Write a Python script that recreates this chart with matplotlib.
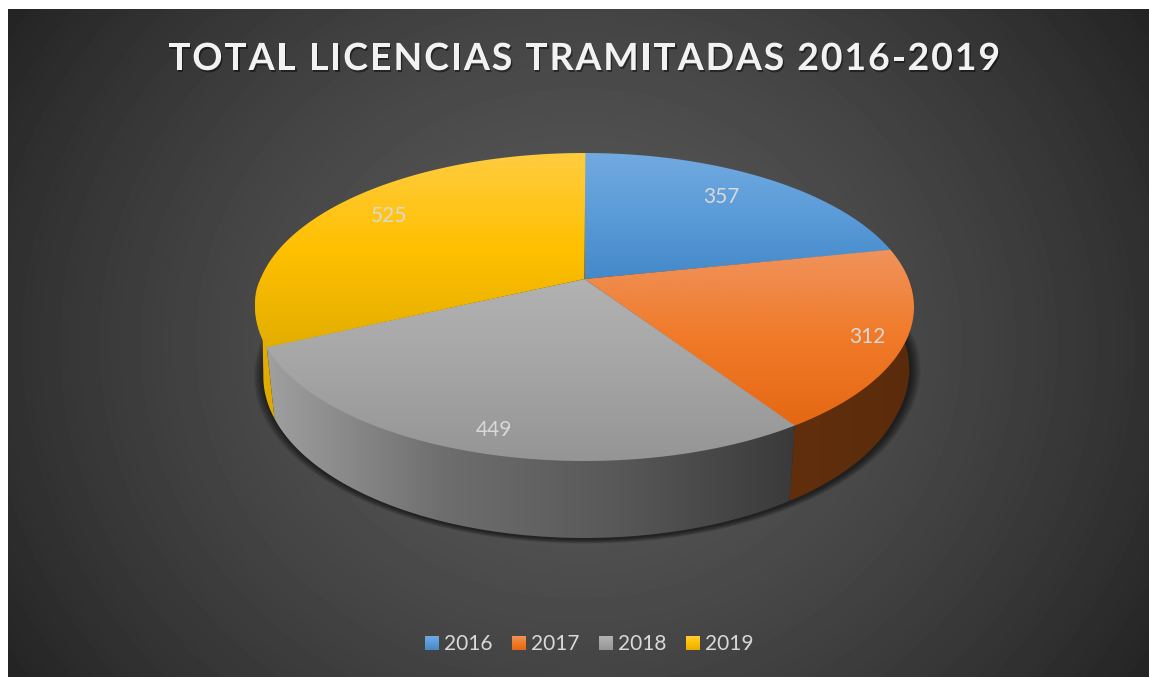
import numpy as np
import matplotlib
matplotlib.use('Agg')
import matplotlib.pyplot as plt
from matplotlib.colors import LinearSegmentedColormap
from matplotlib.patches import Polygon
from matplotlib.text import Text
from matplotlib.transforms import IdentityTransform
import matplotlib.patheffects as pe

years = ['2016', '2017', '2018', '2019']
licencias = [357, 312, 449, 525]
titulo = 'TOTAL LICENCIAS TRAMITADAS 2016-2019'

# gradient stops for the top of each slice (top to bottom of the slice)
top_colors = [['#72AAE0', '#5A9BD8', '#4489C9'],
              ['#F0935C', '#F07A28', '#E56814'],
              ['#B2B2B2', '#A5A5A5', '#959595'],
              ['#FFCC40', '#FFC000', '#E3AE00']]
side_colors = [['#2F5A85', '#2F5A85'],
               ['#622F0D', '#5A2B0B'],
               ['#A0A0A0', '#6E6E6E', '#585858', '#3A3A3A'],
               ['#E8B200', '#DDA800']]

# label centres in pixels
label_pos = [(721, 197), (867, 337), (494, 430), (389, 216)]
legend_x = [425, 512, 599, 686]

# the pie is a circle seen in perspective
cx, cy = 584.5, 279
b, a, k = 324, 148.9, 0.1818


def top_xy(theta):
    u, v = np.sin(theta), -np.cos(theta)
    return cx + b*u/(1 - k*v), cy + a*v/(1 - k*v)


def bottom_xy(theta):
    x, y = top_xy(theta)
    v = -np.cos(theta)
    sx = np.clip(0.992 - 0.04*v, 0.975, 0.992)
    sx = np.where(np.sin(theta) < 0, 0.975, sx)
    return cx + (x - cx)*sx, y + 67 + 10*v


def grad_fill(ax, xy, colors, horizontal=False, zorder=2):
    xy = np.asarray(xy)
    x0, x1 = xy[:, 0].min(), xy[:, 0].max()
    y0, y1 = xy[:, 1].min(), xy[:, 1].max()
    g = np.linspace(0, 1, 256)
    g = g[None, :] if horizontal else g[:, None]
    cmap = LinearSegmentedColormap.from_list('g', colors)
    im = ax.imshow(g, extent=(x0, x1, y1, y0), cmap=cmap, vmin=0, vmax=1,
                   aspect='auto', zorder=zorder, interpolation='bilinear')
    patch = Polygon(xy, closed=True, transform=ax.transData, fc='none', ec='none')
    ax.add_patch(patch)
    im.set_clip_path(patch)


class SpacedText(Text):
    # one string, drawn with extra letter spacing to fill a given pixel width
    fill_width = 832

    def draw(self, renderer):
        s = self.get_text()
        fp = self.get_fontproperties()
        width = lambda c: renderer.get_text_width_height_descent(c, fp, False)[0]
        sp = (self.fill_width - width(s))/(len(s) - 1)
        x0, y0 = self.get_transform().transform(self.get_position())
        for i, ch in enumerate(s):
            if ch == ' ':
                continue
            t = Text(x0 + width(s[:i + 1]) - width(ch) + i*sp, y0, ch, fontproperties=fp,
                     color=self.get_color(), ha='left', va='baseline')
            t.set_figure(self.get_figure())
            t.set_transform(IdentityTransform())
            t.set_path_effects(self.get_path_effects())
            t.draw(renderer)


fig = plt.figure(figsize=(11.49, 6.77), dpi=100, facecolor='white')
ax = fig.add_axes([0, 0, 1, 1])
ax.axis('off')

# radial background
yy, xx = np.mgrid[9:677, 8:1149]
dist = np.hypot((xx - 578)/1.12, (yy - 343))
bg = np.clip(0.35 - 0.185*(dist/560)**1.5, 0.145, 1)
ax.imshow(bg, extent=(8, 1149, 677, 9), cmap='gray', vmin=0, vmax=1, aspect='auto', zorder=0)

# soft shadow under the pie
all_t = np.linspace(0, 2*np.pi, 400)
bx, by = bottom_xy(all_t)
for i in range(10):
    grow = 1 + (10 - i)*0.0032
    ax.fill(cx + (bx - cx)*grow + 1, 390 + (by - 390)*grow + 1, color='black', alpha=0.07, lw=0, zorder=1)

# slices from the values
edges = np.concatenate([[0], np.cumsum(licencias)])/sum(licencias)*2*np.pi
for i in range(len(licencias)):
    t = np.linspace(edges[i], edges[i+1], 200)
    # only the front of the pie shows a side
    v = -np.cos(t)
    t_top, v_top = t[v > -0.02], v[v > -0.02]
    # on the left the outline leaves the bottom arc before it turns back
    t_bot = t_top[t_top < np.radians(258)] if i == len(licencias) - 1 else t_top
    if len(t_top) < 2:
        continue
    xs, ys = top_xy(t_top)
    xb, yb = bottom_xy(t_bot)
    # top of the side goes a little under the slice so no seam shows
    side = np.column_stack([np.r_[xs, xb[::-1]], np.r_[ys - 3*np.clip(v_top/0.1, 0, 1), yb[::-1]]])
    grad_fill(ax, side, side_colors[i], horizontal=True, zorder=2)

for i in range(len(licencias)):
    t = np.linspace(edges[i], edges[i+1] + 0.003, 200)
    xs, ys = top_xy(t)
    top = np.column_stack([np.r_[cx, xs], np.r_[cy, ys]])
    grad_fill(ax, top, top_colors[i], zorder=3)

for val, (x, y) in zip(licencias, label_pos):
    ax.text(x, y, str(val), color='#D9D9D9', fontsize=15, family='Lato',
            ha='center', va='center', zorder=5)

# legend
for i, year in enumerate(years):
    x = legend_x[i]
    sq = [(x, 636), (x + 14, 636), (x + 14, 650), (x, 650)]
    grad_fill(ax, sq, top_colors[i], zorder=4)
    ax.text(x + 19, 644, year, color='#D9D9D9', fontsize=15, family='Lato',
            ha='left', va='center', zorder=5)

tt = SpacedText(168, 70, titulo, color='#F2F2F2', fontsize=27, family='Lato', weight='bold',
                ha='left', va='baseline', zorder=5)
ax.add_artist(tt)
tt.set_path_effects([pe.withSimplePatchShadow(offset=(1, -1.5), shadow_rgbFace='black', alpha=0.45)])

ax.set_xlim(0, 1149)
ax.set_ylim(677, 0)
fig.savefig('out.png', dpi=100, facecolor='white')
